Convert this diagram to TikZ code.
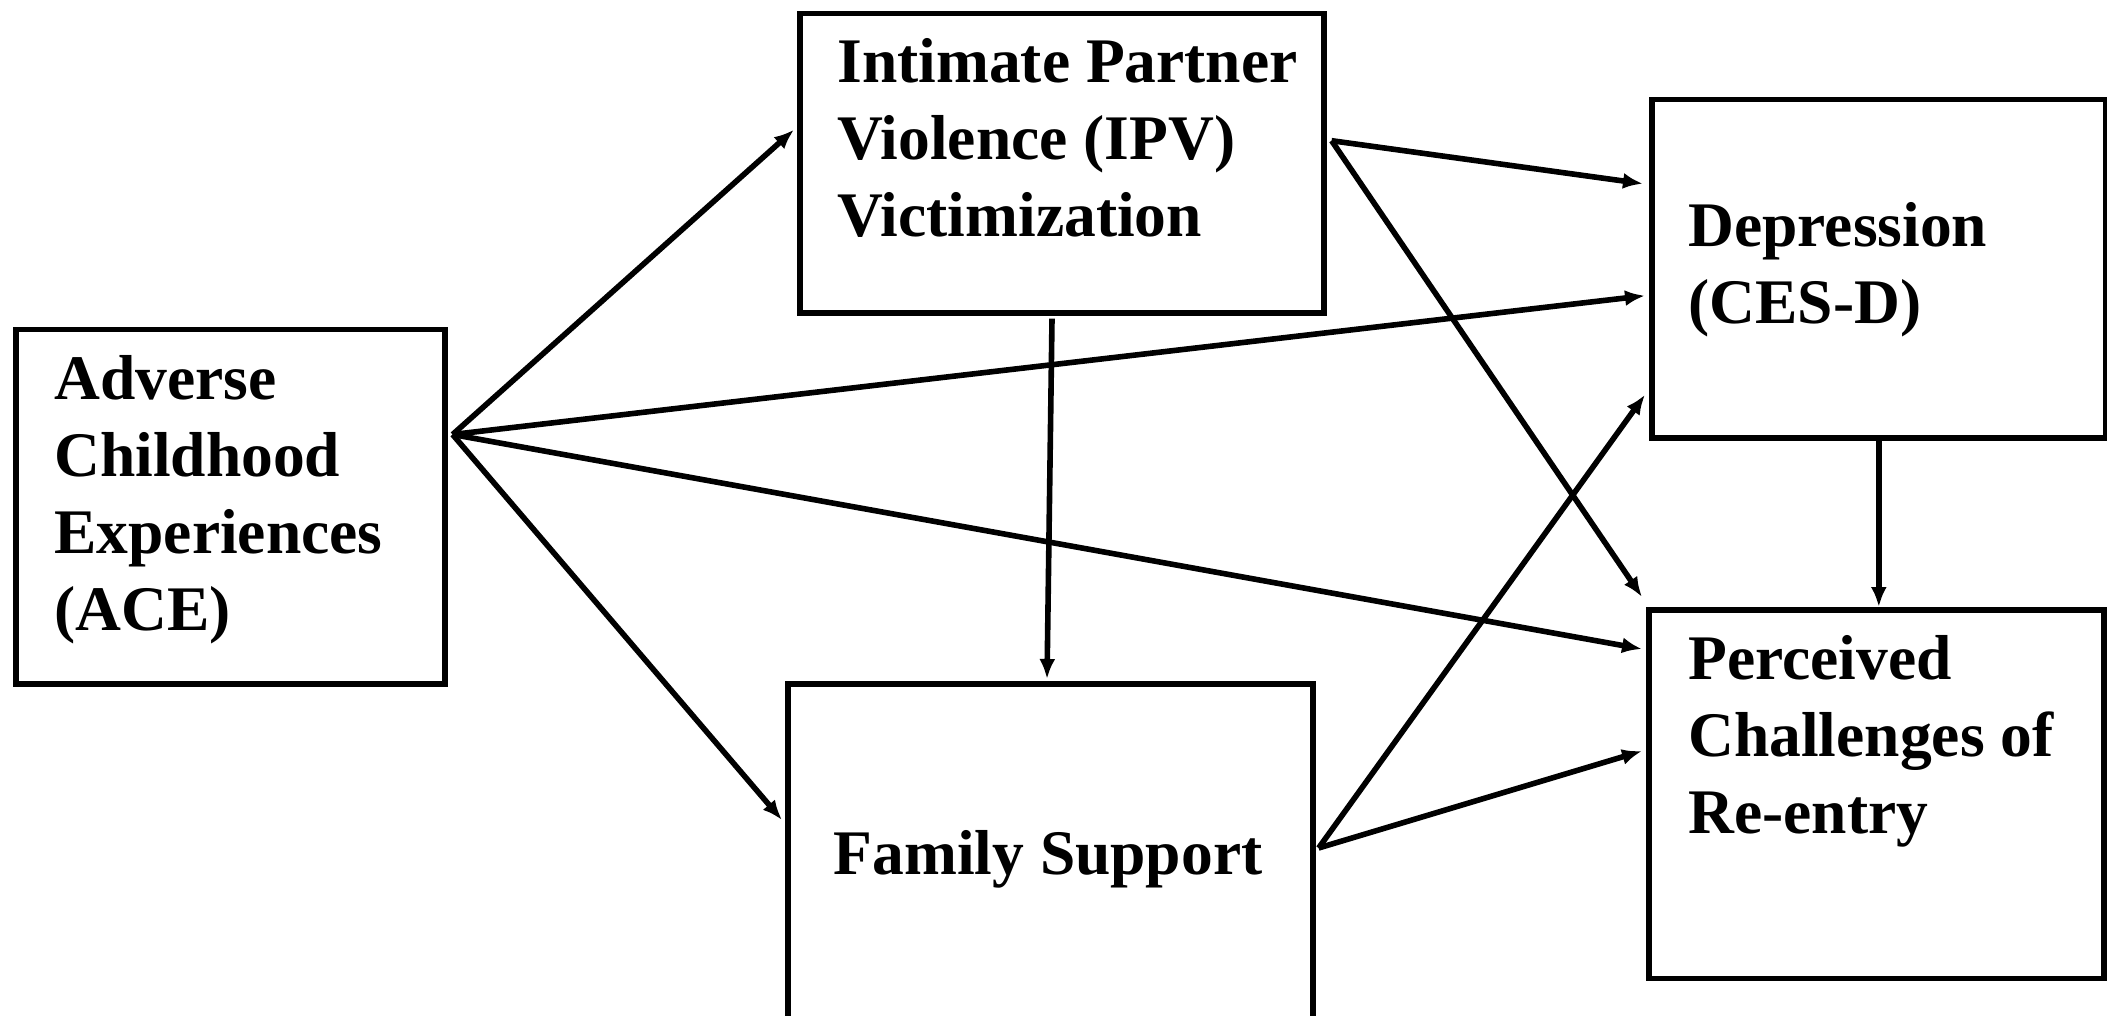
\documentclass[tikz,border=0pt]{standalone}
\usepackage{fontspec}
\setmainfont{Liberation Serif}
\usetikzlibrary{arrows.meta,calc}
\begin{document}
\begin{tikzpicture}[x=0.5pt,y=-0.5pt,
 box/.style={draw,line width=2.8pt,inner sep=0pt,anchor=north west},
 lbl/.style={font=\fontsize{31.75}{38.5}\selectfont\bfseries,align=left,inner sep=0pt,anchor=base west},
 arr/.style={line width=2.8pt,-{Latex[length=10pt,width=8pt]}}]
\useasboundingbox (0,0) rectangle (2107,1016);
\begin{scope}
\clip (0,0) rectangle (2107,1016);
\node[box,minimum width=214.3pt,minimum height=177.25pt] (ace) at (13.4,326.5) {};
\node[box,minimum width=262pt,minimum height=149.65pt] (ipv) at (797,10.7) {};
\node[box,minimum width=227pt,minimum height=169.15pt] (dep) at (1649,96.7) {};
\node[box,minimum width=227.5pt,minimum height=184.25pt] (perc) at (1646,607) {};
\node[box,minimum width=262.5pt,minimum height=179.5pt] (fam) at (785,681) {};
\end{scope}
\node[lbl] (acet) at (54,630) {Adverse\\Childhood\\Experiences\\(ACE)};
\node[lbl] (ipvt) at (837,236) {Intimate Partner\\Violence (IPV)\\Victimization};
\node[lbl] (dept) at (1688,323) {Depression\\(CES-D)};
\node[lbl] (perct) at (1688,833) {Perceived\\Challenges of\\Re-entry};
\node[lbl,anchor=base] (famt) at (1048,874) {Family Support};
\coordinate (aceout) at ($(ace.north east)+(5,108)$);
\coordinate (ipvin) at ($(ipv.north west)+(-3,119)$);
\coordinate (depin1) at ($(dep.north west)+(-6,87)$);
\coordinate (depin2) at ($(dep.north west)+(-4,199)$);
\coordinate (depin3) at ($(dep.north west)+(-4,298)$);
\coordinate (percin1) at ($(perc.north west)+(-4,-10)$);
\coordinate (percin2) at ($(perc.north west)+(-4,42)$);
\coordinate (percin3) at ($(perc.north west)+(-4,144)$);
\coordinate (famin) at ($(fam.north west)+(-3,139)$);
\coordinate (ipvr) at ($(ipv.north east)+(5,130)$);
\coordinate (ipvb) at ($(ipv.south west)+(255,3)$);
\coordinate (famtop) at ($(fam.north west)+(262,-2)$);
\coordinate (famout) at ($(fam.north east)+(3,167)$);
\draw[arr] (aceout) -- (ipvin);
\draw[arr] (aceout) -- (depin2);
\draw[arr] (aceout) -- (percin2);
\draw[arr] (aceout) -- (famin);
\draw[arr] (ipvr) -- (depin1);
\draw[arr] (ipvr) -- (percin1);
\draw[arr] (ipvb) -- (famtop);
\draw[arr] (dep.south) -- (dep.south |- perc.north);
\draw[arr] (famout) -- (depin3);
\draw[arr] (famout) -- (percin3);
\end{tikzpicture}
\end{document}
